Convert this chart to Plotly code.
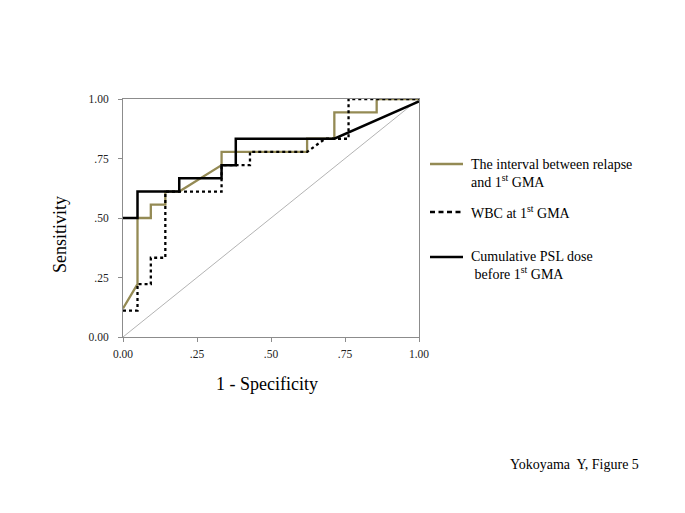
import plotly.graph_objects as go

# ROC data
x_interval = [0, 0.049, 0.049, 0.094, 0.094, 0.143, 0.143, 0.19, 0.333, 0.333, 0.622, 0.622, 0.714, 0.714, 0.857, 0.857, 1.0]
y_interval = [0.12, 0.222, 0.5, 0.5, 0.556, 0.556, 0.611, 0.611, 0.722, 0.778, 0.778, 0.833, 0.833, 0.944, 0.944, 1.0, 1.0]

x_wbc = [0, 0.049, 0.049, 0.094, 0.094, 0.143, 0.143, 0.333, 0.333, 0.429, 0.429, 0.622, 0.683, 0.762, 0.762, 1.0]
y_wbc = [0.111, 0.111, 0.222, 0.222, 0.333, 0.333, 0.611, 0.611, 0.722, 0.722, 0.778, 0.778, 0.833, 0.833, 1.0, 1.0]

x_psl = [0, 0.049, 0.049, 0.19, 0.19, 0.333, 0.333, 0.381, 0.381, 0.714, 1.0]
y_psl = [0.5, 0.5, 0.611, 0.611, 0.667, 0.667, 0.722, 0.722, 0.833, 0.833, 0.99]

x_ref = [0, 1]
y_ref = [0, 1]

tick_vals = [0, 0.25, 0.5, 0.75, 1.0]
tick_text = ["0.00", ".25", ".50", ".75", "1.00"]

legend_names = ["The interval between relapse<br>and 1<sup>st</sup> GMA",
                "WBC at 1<sup>st</sup> GMA",
                "Cumulative PSL dose<br> before 1<sup>st</sup> GMA"]

OLIVE = "#948A54"
OFF = 8  # page body margin
W, H = 685 - OFF, 513 - OFF
L, R, T, B = 123 - OFF, 419 - OFF, 99 - OFF, 337 - OFF
SERIF = "Liberation Serif, Times New Roman, serif"


def px(x):
    return (x - OFF - L) / (R - L)


def py(y):
    return (B - (y - OFF)) / (B - T)


fig = go.Figure()
fig.add_trace(go.Scatter(x=x_ref, y=y_ref, mode="lines",
                         line=dict(color="#A0A0A0", width=0.8), showlegend=False))
fig.add_trace(go.Scatter(x=x_interval, y=y_interval, mode="lines",
                         line=dict(color=OLIVE, width=2.3), showlegend=False))
fig.add_trace(go.Scatter(x=x_wbc, y=y_wbc, mode="lines",
                         line=dict(color="black", width=2.3, dash="dot"), showlegend=False))
fig.add_trace(go.Scatter(x=x_psl, y=y_psl, mode="lines",
                         line=dict(color="black", width=2.5), showlegend=False))

axis_common = dict(range=[0, 1], showgrid=False, zeroline=False, showline=True,
                   linecolor="#8C8C8C", linewidth=1, mirror=True,
                   ticks="outside", ticklen=4, tickcolor="#8C8C8C",
                   tickvals=tick_vals, ticktext=tick_text,
                   tickfont=dict(family=SERIF, size=11.5, color="#222"))

fig.update_layout(
    width=W, height=H,
    margin=dict(l=L, r=W - R, t=T, b=H - B),
    paper_bgcolor="white", plot_bgcolor="white",
    xaxis=dict(axis_common, ticklabelstandoff=2),
    yaxis=dict(axis_common, ticklabelstandoff=7),
    showlegend=False,
)

annotations = [
    dict(x=px(60), y=py(235), text="Sensitivity", textangle=-90,
         font=dict(family=SERIF, size=18, color="black")),
    dict(x=px(267), y=py(384), text="1 - Specificity",
         font=dict(family=SERIF, size=18, color="black")),
    dict(x=px(508), y=py(464), text="Yokoyama  Y, Figure 5", xanchor="left",
         font=dict(family=SERIF, size=14, color="black")),
    dict(x=px(469), y=py(173), text=legend_names[0], xanchor="left", align="left",
         font=dict(family=SERIF, size=14, color="black")),
    dict(x=px(469), y=py(212), text=legend_names[1], xanchor="left", align="left",
         font=dict(family=SERIF, size=14, color="black")),
    dict(x=px(469), y=py(265), text=legend_names[2], xanchor="left", align="left",
         font=dict(family=SERIF, size=14, color="black")),
]
for a in annotations:
    a.update(xref="paper", yref="paper", showarrow=False)
    a.setdefault("xanchor", "center")
    a.setdefault("yanchor", "middle")
fig.update_layout(annotations=annotations)

legend_lines = [(164, OLIVE, "solid"), (212, "black", "5px,3.5px"), (257, "black", "solid")]
for yy, col, dash in legend_lines:
    fig.add_shape(type="line", xref="paper", yref="paper",
                  x0=px(430), x1=px(463), y0=py(yy), y1=py(yy),
                  line=dict(color=col, width=2.4, dash=dash))

fig.write_html("out.html")
